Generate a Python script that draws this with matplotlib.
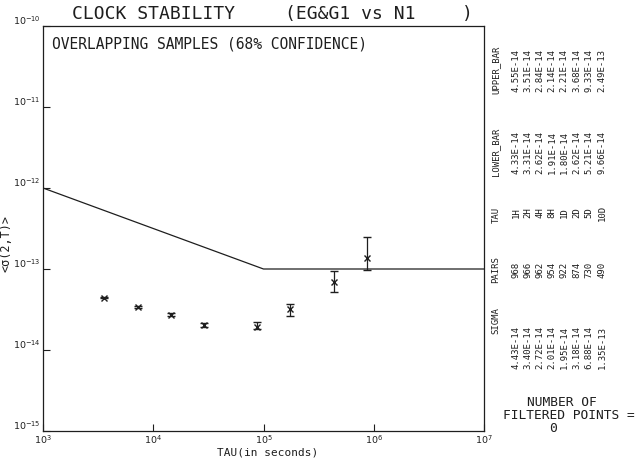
import numpy as np
import matplotlib
matplotlib.use("Agg")
import matplotlib.pyplot as plt

tau_s = [3600, 7200, 14400, 28800, 86400, 172800, 432000, 864000]
tau_lbl = ["1H", "2H", "4H", "8H", "1D", "2D", "5D", "10D"]
sigma = [4.43e-14, 3.40e-14, 2.72e-14, 2.01e-14, 1.95e-14, 3.18e-14, 6.88e-14, 1.35e-13]
pairs = [968, 966, 962, 954, 922, 874, 730, 490]
lower_bar = [4.33e-14, 3.31e-14, 2.62e-14, 1.91e-14, 1.80e-14, 2.62e-14, 5.21e-14, 9.66e-14]
upper_bar = [4.55e-14, 3.51e-14, 2.84e-14, 2.14e-14, 2.21e-14, 3.68e-14, 9.33e-14, 2.49e-13]

# specification line
spec_tau = [1e3, 1e5, 1e7]
spec_sig = [1e-12, 1e-13, 1e-13]

x_ticks = [1e3, 1e4, 1e5, 1e6, 1e7]
y_ticks = [1e-15, 1e-14, 1e-13, 1e-12, 1e-11, 1e-10]

INK = "#1e1e1e"
W, H = 636, 460

plt.rcParams["font.family"] = ["DejaVu Sans Mono", "DejaVu Sans"]
plt.rcParams["mathtext.fontset"] = "dejavusans"

fig = plt.figure(figsize=(W / 100, H / 100), dpi=100)
ax = fig.add_axes([43 / W, 1 - 432 / H, (484 - 43) / W, (432 - 27) / H])


def pow_label(v):
    return f"$10^{{{int(round(np.log10(v)))}}}$"


def px(x, y):
    # pixel position (from top-left) -> figure fraction
    return x / W, 1 - y / H


ax.plot(spec_tau, spec_sig, color=INK, lw=0.9)

err_lo = np.array(sigma) - np.array(lower_bar)
err_hi = np.array(upper_bar) - np.array(sigma)
ax.errorbar(tau_s, sigma, yerr=[err_lo, err_hi], fmt="x", color=INK,
            ms=4, mew=1.0, elinewidth=0.9, capsize=2.8, capthick=0.9)

ax.set_xscale("log")
ax.set_yscale("log")
ax.set_xlim(1e3, 1e7)
ax.set_ylim(1e-15, 1e-10)
ax.set_xticks(x_ticks)
ax.set_yticks(y_ticks)
ax.minorticks_off()
ax.set_xticklabels([pow_label(v) for v in x_ticks])
ax.set_yticklabels([pow_label(v) for v in y_ticks])
ax.tick_params(direction="in", length=5, width=0.8, colors=INK, labelsize=6.8)
ax.tick_params(axis="y", pad=1.5)
ax.tick_params(axis="x", pad=1)
for lab in ax.get_yticklabels():
    lab.set_verticalalignment("bottom")
for sp in ax.spines.values():
    sp.set_color(INK)
    sp.set_linewidth(0.9)

# titles and labels
fig.text(*px(72, 14), "CLOCK STABILITY", fontsize=13, color=INK, va="center", ha="left")
fig.text(*px(285, 14), "(EG&G1 vs N1", fontsize=13, color=INK, va="center", ha="left")
fig.text(*px(467, 14), ")", fontsize=13, color=INK, va="center", ha="center")
fig.text(*px(52, 44), "OVERLAPPING SAMPLES (68% CONFIDENCE)", fontsize=10.5, color=INK,
         va="center", ha="left")
fig.text(*px(6, 244), "<σ(2,T)>", fontsize=8.5, color=INK, rotation=90,
         va="center", ha="center")
fig.text(*px(268, 453), "TAU(in seconds)", fontsize=8, color=INK, va="center", ha="center")

# rotated table at the right
headers = ["SIGMA", "PAIRS", "TAU", "LOWER_BAR", "UPPER_BAR"]
head_y = [321, 270, 215, 152, 70]
val_y = [348, 270, 213, 152, 70]
row_x = [516, 528, 540, 552, 564, 577, 589, 602]

for h, y in zip(headers, head_y):
    fig.text(*px(496, y), h, fontsize=6.5, color=INK, rotation=90,
             rotation_mode="anchor", ha="center", va="center")

columns = [
    [f"{v:.2E}" for v in sigma],
    [str(v) for v in pairs],
    tau_lbl,
    [f"{v:.2E}" for v in lower_bar],
    [f"{v:.2E}" for v in upper_bar],
]
for col, y in zip(columns, val_y):
    for s, x in zip(col, row_x):
        fig.text(*px(x, y), s, fontsize=6.5, color=INK, rotation=90,
                 rotation_mode="anchor", ha="center", va="center")

fig.text(*px(562, 403), "NUMBER OF", fontsize=9.3, color=INK, va="center", ha="center")
fig.text(*px(503, 416), "FILTERED POINTS =", fontsize=9.3, color=INK, va="center", ha="left")
fig.text(*px(553, 429), "0", fontsize=9.3, color=INK, va="center", ha="center")

fig.savefig("out.png", dpi=100, facecolor="white")
